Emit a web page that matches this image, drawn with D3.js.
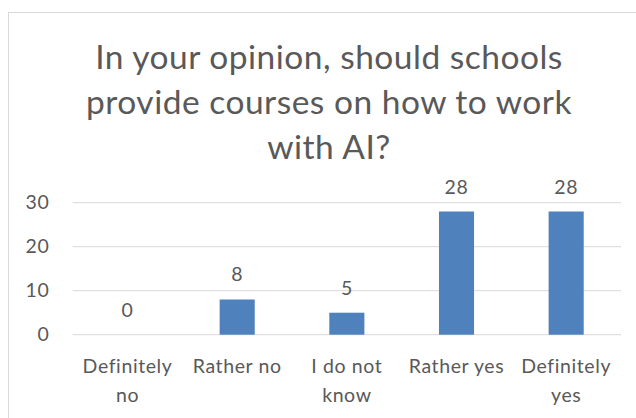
<!DOCTYPE html>
<html>
<head>
<meta charset="utf-8">
<script src="https://cdn.jsdelivr.net/npm/d3@7"></script>
<style>
  body { margin: 0; background: #fff; }
  text { font-family: Lato, "Liberation Sans", sans-serif; fill: #595959; }
</style>
</head>
<body>
<div id="chart"></div>
<script>
// Chart data
var categories = ["Definitely no", "Rather no", "I do not know", "Rather yes", "Definitely yes"];
var categoryLines = [["Definitely", "no"], ["Rather no"], ["I do not", "know"], ["Rather yes"], ["Definitely", "yes"]];
var values = [0, 8, 5, 28, 28];
var yTicks = [0, 10, 20, 30];
var titleLines = ["In your opinion, should schools", "provide courses on how to work", "with AI?"];

var svgWidth = 636;
var svgHeight = 418;

var margin = { top: 202.7, right: 15, bottom: 83.3, left: 72.7 };
var chartWidth = svgWidth - margin.left - margin.right;
var chartHeight = svgHeight - margin.top - margin.bottom;

var svg = d3.select("#chart")
  .append("svg")
  .attr("width", svgWidth)
  .attr("height", svgHeight);

// Chart frame
svg.append("rect")
  .attr("x", 8.5)
  .attr("y", 12.5)
  .attr("width", 640)
  .attr("height", 420)
  .attr("fill", "none")
  .attr("stroke", "#d9d9d9");

// Title
svg.append("g").selectAll("text")
  .data(titleLines)
  .join("text")
  .attr("x", 329)
  .attr("y", (d, i) => 69.3 + i * 45)
  .attr("text-anchor", "middle")
  .attr("font-size", "33.5px")
  .attr("letter-spacing", "0.5px")
  .text(d => d);

var chartGroup = svg.append("g")
  .attr("transform", `translate(${margin.left}, ${margin.top})`);

var xScale = d3.scaleBand()
  .domain(categories)
  .range([0, chartWidth])
  .paddingInner(0.68)
  .paddingOuter(0.34);

var yScale = d3.scaleLinear()
  .domain([0, 30])
  .range([chartHeight, 0]);

// Gridlines
chartGroup.append("g")
  .selectAll("line")
  .data(yTicks)
  .join("line")
  .attr("x1", 0)
  .attr("x2", chartWidth)
  .attr("y1", d => yScale(d))
  .attr("y2", d => yScale(d))
  .attr("stroke", "#d9d9d9")
  .attr("stroke-width", 1);

// Y axis labels
var leftAxis = d3.axisLeft(yScale).tickValues(yTicks).tickSize(0).tickPadding(23);
chartGroup.append("g")
  .call(leftAxis)
  .call(g => g.select(".domain").remove())
  .selectAll("text")
  .attr("font-family", null)
  .attr("font-size", "19.5px")
  .attr("letter-spacing", "0.8px")
  .attr("fill", "#595959");

// Bars
chartGroup.append("g")
  .selectAll("rect")
  .data(values)
  .join("rect")
  .attr("x", (d, i) => xScale(categories[i]))
  .attr("y", d => yScale(d))
  .attr("width", xScale.bandwidth())
  .attr("height", d => chartHeight - yScale(d))
  .attr("fill", "#4f81bd");

// Value labels
chartGroup.append("g")
  .selectAll("text")
  .data(values)
  .join("text")
  .attr("x", (d, i) => xScale(categories[i]) + xScale.bandwidth() / 2)
  .attr("y", d => yScale(d) - 18)
  .attr("text-anchor", "middle")
  .attr("font-size", "19.5px")
  .attr("letter-spacing", "0.6px")
  .text(d => d);

// Category labels
var catGroup = chartGroup.append("g")
  .selectAll("text")
  .data(categories)
  .join("text")
  .attr("x", d => xScale(d) + xScale.bandwidth() / 2)
  .attr("y", chartHeight + 38.5)
  .attr("text-anchor", "middle")
  .attr("font-size", "19.5px")
  .attr("letter-spacing", "0.6px");

catGroup.selectAll("tspan")
  .data((d, i) => categoryLines[i])
  .join("tspan")
  .attr("x", function () { return d3.select(this.parentNode).attr("x"); })
  .attr("dy", (d, i) => i === 0 ? 0 : 28.5)
  .text(d => d);
</script>
</body>
</html>
